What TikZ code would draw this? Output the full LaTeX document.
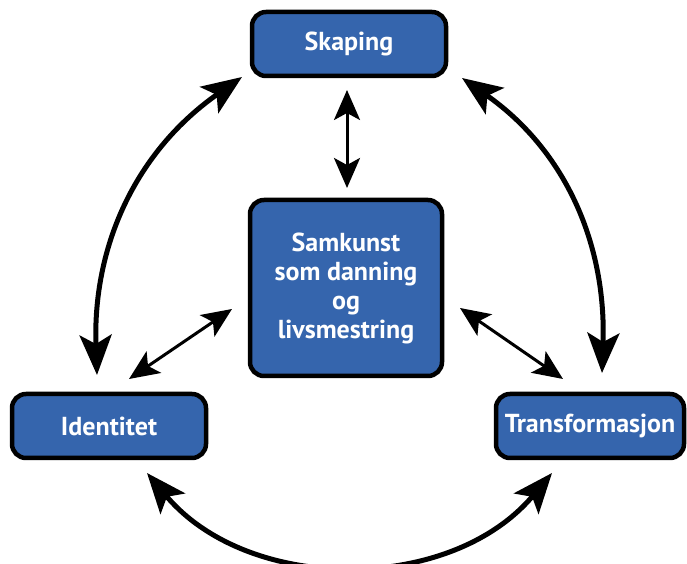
\documentclass[tikz,border=0pt]{standalone}
\usepackage{fontspec}
\setmainfont{PT Sans}
\usetikzlibrary{arrows.meta}
\definecolor{boxblue}{HTML}{3565AD}
\begin{document}
\begin{tikzpicture}[x=1pt, y=1pt,
    box/.style={draw=black, line width=4.5pt, fill=boxblue, rounded corners=14pt,
      text=white, font=\bfseries\fontsize{26}{29}\selectfont, inner sep=0pt, align=center},
    bigarrow/.style={line width=5pt, {Stealth[length=40pt, width=32pt, inset=9pt]}-{Stealth[length=40pt, width=32pt, inset=9pt]}},
    smallarrow/.style={line width=3pt, {Stealth[length=30pt, width=26pt, inset=7pt]}-{Stealth[length=30pt, width=26pt, inset=7pt]}}]
  \useasboundingbox (0, 0) rectangle (687, 564);

  \node[box, minimum width=194pt, minimum height=64pt] (skaping) at (349, 520) {Skaping};
  \node[box, minimum width=192pt, minimum height=176pt] (samkunst) at (346, 276)
    {Samkunst\\som danning\\og\\livsmestring};
  \node[box, minimum width=194pt, minimum height=64pt] (identitet) at (109, 138) {Identitet};
  \node[box, minimum width=188pt, minimum height=64pt] (transf) at (590, 138) {Transformasjon};

  % ends of the arrows
  \coordinate (s-top) at (242, 487);
  \coordinate (s-right) at (462, 486);
  \coordinate (i-up) at (97, 189);
  \coordinate (i-low) at (147, 91);
  \coordinate (t-up) at (602, 191);
  \coordinate (t-low) at (552, 91);
  \coordinate (c-top) at (347, 474);
  \coordinate (c-mid) at (347, 376);
  \coordinate (c-left) at (232, 255);
  \coordinate (i-diag) at (129, 185);
  \coordinate (c-right) at (460, 256);
  \coordinate (t-diag) at (563, 185);

  \draw[bigarrow] (i-up) to[out=92, in=215] (s-top);
  \draw[bigarrow] (s-right) to[out=-35, in=88] (t-up);
  \draw[bigarrow] (i-low) to[out=-50, in=230] (t-low);

  \draw[smallarrow] (c-top) -- (c-mid);
  \draw[smallarrow] (c-left) -- (i-diag);
  \draw[smallarrow] (c-right) -- (t-diag);
\end{tikzpicture}
\end{document}
